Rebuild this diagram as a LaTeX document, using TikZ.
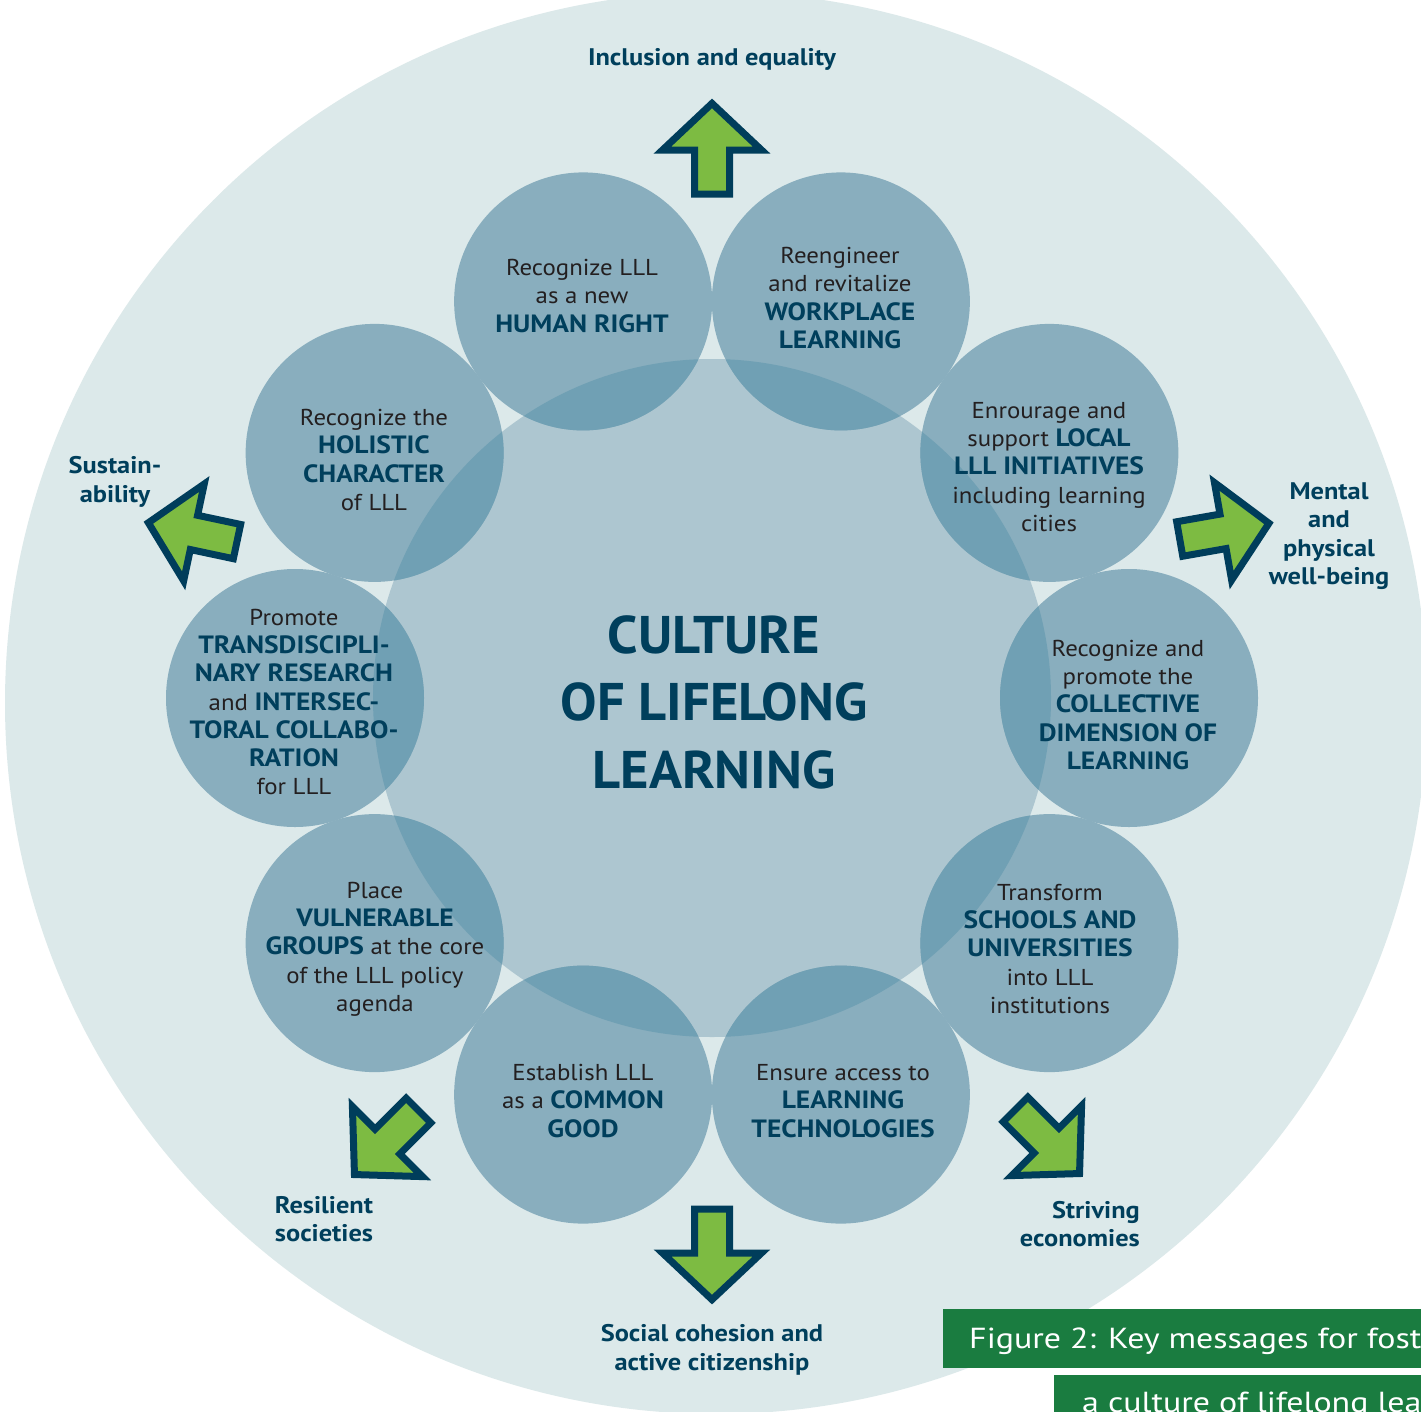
\documentclass[tikz,border=0pt]{standalone}
\usepackage{fontspec}
\setmainfont{PT Sans}[FakeStretch=1.08]
\newfontfamily\boldf{PT Sans}[FakeStretch=1.1]
\newfontfamily\coref{PT Sans}[FakeStretch=1.03]
\newfontfamily\capf{PT Sans}[FakeStretch=1.17]
\definecolor{bgc}{HTML}{DCE9EA}
\definecolor{corec}{HTML}{ADC6D0}
\definecolor{smallc}{HTML}{89AEBE}
\definecolor{overc}{HTML}{70A0B4}
\definecolor{dblue}{HTML}{003F5C}
\definecolor{ink}{HTML}{231F20}
\definecolor{agreen}{HTML}{7DBB42}
\definecolor{aline}{HTML}{003D5B}
\definecolor{figgreen}{HTML}{1A7C40}
\newcommand\hl[1]{{\boldf\bfseries\fontsize{25}{28.3}\selectfont\color{dblue}#1}}
\tikzset{
  msgtext/.style={align=center, text=ink, inner sep=0pt, font=\fontsize{23}{28.3}\selectfont},
  coretext/.style={align=center, text=dblue, inner sep=0pt, font=\coref\bfseries\fontsize{53}{67.5}\selectfont},
  labtext/.style={align=center, text=dblue, inner sep=0pt, font=\boldf\bfseries\fontsize{24}{28.5}\selectfont},
  captext/.style={text=white, inner sep=0pt, font=\capf\fontsize{29}{32}\selectfont},
  arrowshape/.style={fill=agreen, draw=aline, line width=7pt, miter limit=10},
  outarrow/.pic={\path[arrowshape] (0,-44.6) -- (49.5,2) -- (17.5,2) -- (17.5,46) -- (-17.5,46) -- (-17.5,2) -- (-49.5,2) -- cycle;}
}
\begin{document}
\begin{tikzpicture}[x=1pt,y=-1pt]
\useasboundingbox (0,0) rectangle (1421,1411);
\clip (0,0) rectangle (1421,1411);
\fill[white] (0,0) rectangle (1421,1411);
\fill[bgc] (716,703) circle[radius=711];
\fill[corec] (712,698) circle[radius=339];
\foreach \a in {0,36,...,324}
  \fill[smallc] ({712+417*cos(\a)},{698-417*sin(\a)}) circle[radius=129];
\begin{scope}
  \clip (712,698) circle[radius=339];
  \foreach \a in {0,36,...,324}
    \fill[overc] ({712+417*cos(\a)},{698-417*sin(\a)}) circle[radius=129];
\end{scope}

\node[coretext] (core) at (714,702) {CULTURE\\OF LIFELONG\\LEARNING};

\node[msgtext] (m1) at (582,296) {Recognize LLL\\as a new\\\hl{HUMAN RIGHT}};
\node[msgtext] (m2) at (840,298) {Reengineer\\and revitalize\\\hl{WORKPLACE}\\\hl{LEARNING}};
\node[msgtext] (m3) at (1049,467) {Enrourage and\\support \hl{LOCAL}\\\hl{LLL INITIATIVES}\\including learning\\cities};
\node[msgtext] (m4) at (1128,705) {Recognize and\\promote the\\\hl{COLLECTIVE}\\\hl{DIMENSION OF}\\\hl{LEARNING}};
\node[msgtext] (m5) at (1050,949) {Transform\\\hl{SCHOOLS AND}\\\hl{UNIVERSITIES}\\into LLL\\institutions};
\node[msgtext] (m6) at (843,1101) {Ensure access to\\\hl{LEARNING}\\\hl{TECHNOLOGIES}};
\node[msgtext] (m7) at (583,1101) {Establish LLL\\as a \hl{COMMON}\\\hl{GOOD}};
\node[msgtext] (m8) at (375,949) {Place\\\hl{VULNERABLE}\\\hl{GROUPS} at the core\\of the LLL policy\\agenda};
\node[msgtext] (m9) at (294,702) {Promote\\\hl{TRANSDISCIPLI-}\\\hl{NARY RESEARCH}\\and \hl{INTERSEC-}\\\hl{TORAL COLLABO-}\\\hl{RATION}\\for LLL};
\node[msgtext] (m10) at (374,460) {Recognize the\\\hl{HOLISTIC}\\\hl{CHARACTER}\\of LLL};

\pic at (712,148) {outarrow};
\pic[rotate=78] at (192,532) {outarrow};
\pic[rotate=-80] at (1225,531) {outarrow};
\pic[rotate=135] at (386,1143) {outarrow};
\pic[rotate=-135] at (1048,1142) {outarrow};
\pic[rotate=180] at (712,1255) {outarrow};

\node[labtext] (l1) at (712,59) {Inclusion and equality};
\node[labtext] (l2) at (115,482) {Sustain-\\ability};
\node[labtext] (l3) at (1329,536) {Mental\\and\\physical\\well-being};
\node[labtext] (l4) at (324,1219) {Resilient\\societies};
\node[labtext, align=right, anchor=east] (l5) at (1140,1224) {Striving\\economies};
\node[labtext] (l6) at (712,1350) {Social cohesion and\\active citizenship};

\fill[figgreen] (943,1309) rectangle (1430,1368);
\fill[figgreen] (1054,1375) rectangle (1430,1420);
\node[captext, anchor=base west] (c1) at (969,1348) {Figure 2: Key messages for fost};
\node[captext, anchor=base west] (c2) at (1082,1412) {a culture of lifelong lea};
\end{tikzpicture}
\end{document}
